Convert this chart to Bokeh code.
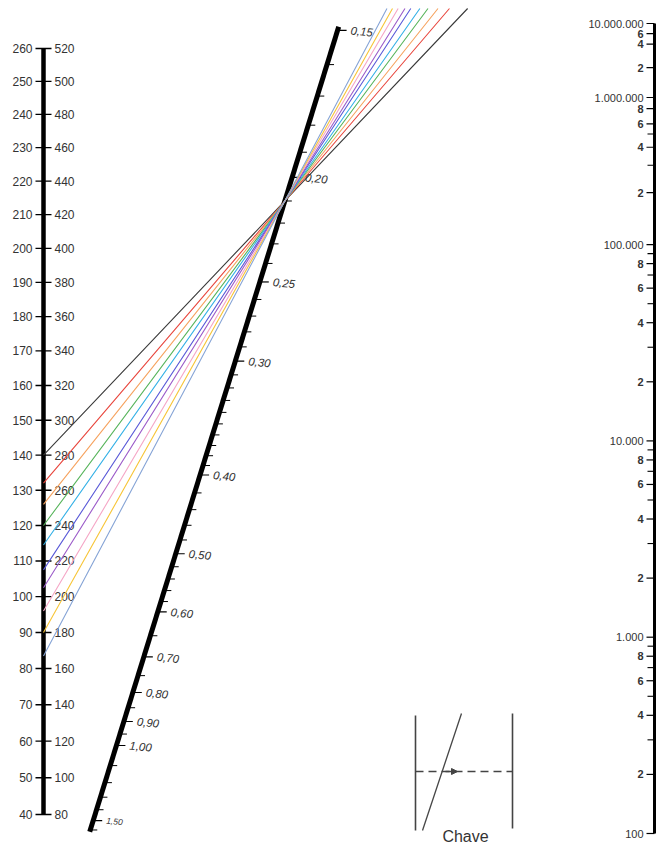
import numpy as np
from bokeh.plotting import figure
from bokeh.models import Range1d, Arrow, NormalHead
from bokeh.core.properties import value
from bokeh.embed import file_html
from bokeh.resources import INLINE

# ---------------- data ----------------
# left scale (inner labels and outer labels)
left_inner = [40, 50, 60, 70, 80, 90, 100, 110, 120, 130, 140, 150, 160,
              170, 180, 190, 200, 210, 220, 230, 240, 250, 260]
left_outer = [80, 100, 120, 140, 160, 180, 200, 220, 240, 260, 280, 300, 320,
              340, 360, 380, 400, 420, 440, 460, 480, 500, 520]

# diagonal scale
diag_major = [0.15, 0.20, 0.25, 0.30, 0.40, 0.50, 0.60, 0.70, 0.80, 0.90, 1.00, 1.50]
diag_major_labels = ["0,15", "0,20", "0,25", "0,30", "0,40", "0,50", "0,60",
                     "0,70", "0,80", "0,90", "1,00", "1,50"]
diag_minor = [0.16, 0.17, 0.18, 0.19, 0.21, 0.22, 0.23, 0.24, 0.26, 0.27, 0.28, 0.29,
              0.31, 0.32, 0.33, 0.34, 0.35, 0.36, 0.37, 0.38, 0.39,
              0.42, 0.44, 0.46, 0.48, 0.52, 0.54, 0.56, 0.58,
              0.65, 0.75, 0.85, 0.95, 1.10, 1.20, 1.30, 1.40, 1.60]
diag_extent = [0.149, 1.62]

# right (logarithmic) scale
right_major = [100, 1000, 10000, 100000, 1000000, 10000000]
right_major_labels = ["100", "1.000", "10.000", "100.000", "1.000.000", "10.000.000"]
right_minor_labeled = [200, 400, 600, 800,
                       2000, 4000, 6000, 8000,
                       20000, 40000, 60000, 80000,
                       200000, 400000, 600000, 800000,
                       2000000, 4000000, 6000000]
right_minor_labels = ["2", "4", "6", "8",
                      "2", "4", "6", "8",
                      "2", "4", "6", "8",
                      "2", "4", "6", "8",
                      "2", "4", "6"]
right_minor_plain = [300, 500, 700, 900,
                     3000, 5000, 7000, 9000,
                     30000, 50000, 70000, 90000,
                     300000, 500000]

# isopleths: start value on the left scale, all through one pivot on the diagonal
iso_left = [140, 132, 126, 120, 114.5, 107.5, 102.5, 96, 90, 83.5]
iso_colors = ["#3a3a3a", "#e8453c", "#f6a25e", "#56b45a", "#33b0e6",
              "#5a5ad8", "#9b5bc9", "#f5a6c6", "#f7c537", "#86a4d6"]
pivot_value = 0.21

key_label = "Chave"

# ---------------- layout / scales ----------------
LEFT_X = 43
RIGHT_X = 654
DIAG_TOP = (338.0, 27.0)
DIAG_BOT = (89.0, 832.0)
FONT = value("Liberation Sans")
TXT = "#333333"


def left_y(v):
    s = (260.0 - np.asarray(v, float)) / 220.0
    return 48.0 + 720.9 * s + 45.1 * s * s


def diag_y(v):
    L = np.log(np.asarray(v, float))
    return 745.0 + 218.9 * L - 83.3 * L * L


def diag_x(y):
    return DIAG_TOP[0] + (np.asarray(y, float) - DIAG_TOP[1]) * \
        (DIAG_BOT[0] - DIAG_TOP[0]) / (DIAG_BOT[1] - DIAG_TOP[1])


def right_y(v):
    u = np.log10(np.asarray(v, float)) - 2.0
    w = u - 3.0
    return np.where(u <= 3.0, 833.0 - 196.3 * u, 244.0 - 183.5 * w + 36.5 * w * w)


p = figure(width=657, height=845, x_range=Range1d(0, 657), y_range=Range1d(845, 0),
           output_backend="svg", toolbar_location=None, min_border=0)
p.xaxis.visible = False
p.yaxis.visible = False
p.grid.visible = False
p.outline_line_color = None
p.background_fill_color = "white"
p.border_fill_color = "white"

# ---------------- left scale ----------------
ly = left_y(left_inner)
p.line([LEFT_X, LEFT_X], [left_y(260), left_y(40)], line_width=4.5, line_color="black")
p.multi_line([[LEFT_X - 8, LEFT_X + 8] for _ in ly], [[y, y] for y in ly],
             line_width=1.3, line_color="black")
p.text(x=[LEFT_X - 11] * len(ly), y=ly, text=[str(v) for v in left_inner],
       text_align="right", text_baseline="middle", text_font=FONT,
       text_font_size="12px", text_color=TXT)
p.text(x=[LEFT_X + 11] * len(ly), y=ly, text=[str(v) for v in left_outer],
       text_align="left", text_baseline="middle", text_font=FONT,
       text_font_size="12px", text_color=TXT)

# ---------------- diagonal scale ----------------
ey = diag_y(diag_extent)
p.line(diag_x(ey), ey, line_width=5, line_color="black")
my = diag_y(diag_major)
mx = diag_x(my)
p.multi_line([[x, x + 9] for x in mx], [[y, y] for y in my], line_width=1.2, line_color="black")
ny = diag_y(diag_minor)
nx = diag_x(ny)
p.multi_line([[x, x + 7] for x in nx], [[y, y] for y in ny], line_width=1.0, line_color="black")
sizes = ["11.5px"] * (len(diag_major) - 1) + ["8.5px"]
for x, y, t, s in zip(mx, my, diag_major_labels, sizes):
    p.text(x=[x + 13], y=[y], text=[t], text_align="left", text_baseline="middle",
           text_font=FONT, text_font_style="italic", text_font_size=s,
           text_color=TXT, angle=-0.1)

# ---------------- right scale ----------------
p.line([RIGHT_X, RIGHT_X], [right_y(10000000), right_y(100)], line_width=3, line_color="black")
ry = right_y(right_major)
p.multi_line([[RIGHT_X - 8, RIGHT_X] for _ in ry], [[y, y] for y in ry],
             line_width=1.2, line_color="black")
p.text(x=[RIGHT_X - 11] * len(ry), y=ry, text=right_major_labels, text_align="right",
       text_baseline="middle", text_font=FONT, text_font_size="11px", text_color=TXT)
rly = right_y(right_minor_labeled)
p.multi_line([[RIGHT_X - 8, RIGHT_X] for _ in rly], [[y, y] for y in rly],
             line_width=1.2, line_color="black")
p.text(x=[RIGHT_X - 11] * len(rly), y=rly, text=right_minor_labels, text_align="right",
       text_baseline="middle", text_font=FONT, text_font_size="11px", text_color=TXT,
       text_font_style="bold")
rpy = right_y(right_minor_plain)
p.multi_line([[RIGHT_X - 7, RIGHT_X] for _ in rpy], [[y, y] for y in rpy],
             line_width=1.1, line_color="black")

# ---------------- isopleths ----------------
py_ = float(diag_y(pivot_value))
px_ = float(diag_x(py_))
for v, c in zip(iso_left, iso_colors):
    ay = float(left_y(v))
    k = (py_ - 8.0) / (ay - py_)
    ex, ey2 = px_ + (px_ - LEFT_X) * k, py_ - (ay - py_) * k
    p.line([LEFT_X, px_, ex], [ay, py_, ey2], line_color=c, line_width=1.1)

# ---------------- key ----------------
KX, KY, KW, KH = 415, 713, 97, 117
kc = "#444444"
p.line([KX, KX], [KY + 2, KY + KH], line_color=kc, line_width=1.6)
p.line([KX + KW, KX + KW], [KY, KY + KH - 2], line_color=kc, line_width=1.6)
p.line([KX + 46, KX + 7], [KY, KY + KH], line_color=kc, line_width=1.3)
p.line([KX, KX + KW], [KY + 58, KY + 58], line_color=kc, line_width=1.6, line_dash="8 5")
p.add_layout(Arrow(end=NormalHead(size=6, fill_color=kc, line_color=kc),
                   x_start=KX + 30, y_start=KY + 58, x_end=KX + 42, y_end=KY + 58,
                   line_color=kc, line_width=1.6))
p.text(x=[KX + 50], y=[KY + 123], text=[key_label], text_align="center",
       text_baseline="middle", text_font=FONT, text_font_size="16px", text_color=TXT)

open("out.html", "w").write(file_html(p, INLINE))
